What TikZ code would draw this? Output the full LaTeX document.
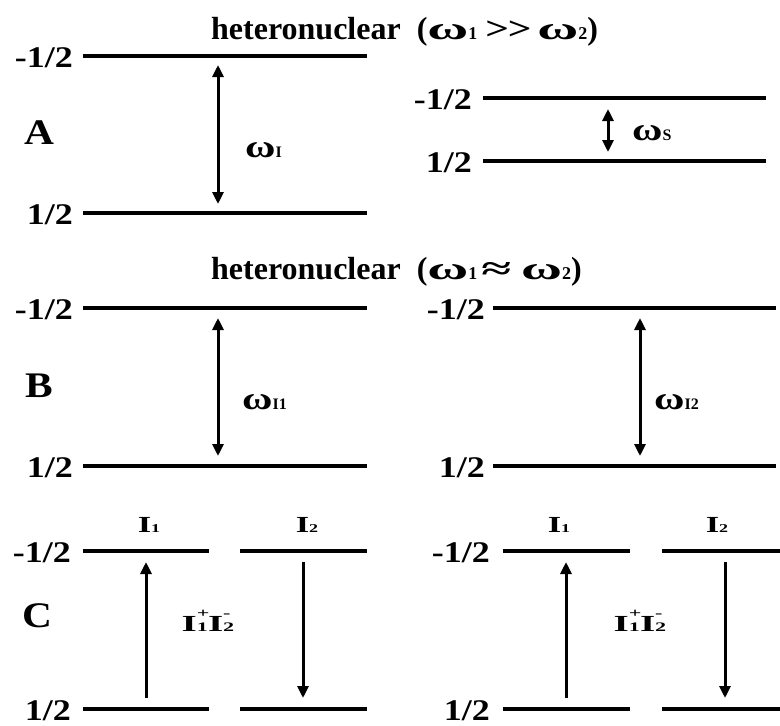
\documentclass[tikz,border=0pt]{standalone}
\usepackage{fontspec}
\setmainfont{Liberation Serif}
\usetikzlibrary{arrows.meta}
\newcommand{\lvlt}[1]{\scalebox{1.2}[1]{\fontsize{30}{30}\selectfont\bfseries #1}}
\newcommand{\letr}[1]{\scalebox{1.15}[1]{\fontsize{36}{36}\selectfont\bfseries #1}}
\newcommand{\sbs}[1]{{\fontsize{16}{16}\selectfont #1}}
\newcommand{\tsb}[1]{{\fontsize{18}{18}\selectfont #1}}
\newcommand{\om}{\scalebox{1.3}[1]{ω}}
\newcommand{\tom}{\scalebox{1.75}[1]{ω}}
\newcommand{\Ilab}[1]{\scalebox{1.5}[1]{\fontsize{23}{23}\selectfont\bfseries I{\fontsize{12}{12}\selectfont #1}}}
\newcommand{\Ipm}{\scalebox{1.7}[1]{\fontsize{23}{23}\selectfont\bfseries I{\fontsize{13}{13}\selectfont\rlap{\raisebox{14pt}{+}}1}I{\fontsize{13}{13}\selectfont\rlap{\raisebox{14pt}{-}}2}}}
\begin{document}
\begin{tikzpicture}[x=1pt,y=-1pt,
  every node/.style={inner sep=0pt},
  level/.style={line width=3.3pt},
  dbl/.style={line width=3pt,arrows={Triangle[length=12pt,width=11pt]-Triangle[length=12pt,width=11pt]}},
  sgl/.style={line width=3pt,arrows={-Triangle[length=12pt,width=11pt]}},
  lab/.style={anchor=east},
  ttl/.style={anchor=base west,font=\fontsize{32}{32}\selectfont\bfseries},
  om/.style={anchor=west,font=\fontsize{32}{32}\selectfont\bfseries}
]
\useasboundingbox (0,0) rectangle (780,726);

% titles
\node[ttl] (t1) at (211,39) {heteronuclear\hspace{16pt}(\tom\tsb{1}\hspace{8pt}\scalebox{1.3}[1]{>\kern-1pt>}\hspace{6pt}\tom\tsb{2})};
\node[ttl] (t2) at (211,279) {heteronuclear\hspace{16pt}(\tom\tsb{1}\hspace{4pt}\scalebox{1.7}[1]{≈}\hspace{10pt}\tom\tsb{2})};

% ---------- Row A ----------
\coordinate (a1l) at (83,56);  \coordinate (a1r) at (367,56);
\coordinate (a2l) at (83,213); \coordinate (a2r) at (367,213);
\draw[level] (a1l) -- (a1r);
\draw[level] (a2l) -- (a2r);
\node[lab] (la1) at (73,58) {\lvlt{-1/2}};
\node[lab] (la2) at (73,215) {\lvlt{1/2}};
\node (lA) at (39,133) {\letr{A}};
\coordinate (aa1) at (218,65); \coordinate (aa2) at (218,204);
\draw[dbl] (aa1) -- (aa2);
\node[om] (wI) at (245,150) {\om\sbs{I}};

\coordinate (s1l) at (483,98);  \coordinate (s1r) at (766,98);
\coordinate (s2l) at (483,161); \coordinate (s2r) at (766,161);
\draw[level] (s1l) -- (s1r);
\draw[level] (s2l) -- (s2r);
\node[lab] (ls1) at (472,100) {\lvlt{-1/2}};
\node[lab] (ls2) at (472,163) {\lvlt{1/2}};
\coordinate (sa1) at (608,109); \coordinate (sa2) at (608,152);
\draw[dbl] (sa1) -- (sa2);
\node[om] (wS) at (632,133) {\om\sbs{S}};

% ---------- Row B ----------
\coordinate (b1l) at (83,308);  \coordinate (b1r) at (367,308);
\coordinate (b2l) at (83,466);  \coordinate (b2r) at (367,466);
\draw[level] (b1l) -- (b1r);
\draw[level] (b2l) -- (b2r);
\node[lab] (lb1) at (73,310) {\lvlt{-1/2}};
\node[lab] (lb2) at (73,468) {\lvlt{1/2}};
\node (lB) at (39,386) {\letr{B}};
\coordinate (ba1) at (218,318); \coordinate (ba2) at (218,456);
\draw[dbl] (ba1) -- (ba2);
\node[om] (wI1) at (242,402) {\om\sbs{I1}};

\coordinate (c1l) at (493,308);  \coordinate (c1r) at (776,308);
\coordinate (c2l) at (493,466);  \coordinate (c2r) at (776,466);
\draw[level] (c1l) -- (c1r);
\draw[level] (c2l) -- (c2r);
\node[lab] (lc1) at (485,310) {\lvlt{-1/2}};
\node[lab] (lc2) at (485,468) {\lvlt{1/2}};
\coordinate (ca1) at (640,318); \coordinate (ca2) at (640,456);
\draw[dbl] (ca1) -- (ca2);
\node[om] (wI2) at (654,402) {\om\sbs{I2}};

% ---------- Row C left ----------
\coordinate (d1l) at (83,551);  \coordinate (d1r) at (209,551);
\coordinate (d2l) at (240,551); \coordinate (d2r) at (367,551);
\coordinate (d3l) at (83,709);  \coordinate (d3r) at (209,709);
\coordinate (d4l) at (240,709); \coordinate (d4r) at (367,709);
\draw[level] (d1l) -- (d1r);
\draw[level] (d2l) -- (d2r);
\draw[level] (d3l) -- (d3r);
\draw[level] (d4l) -- (d4r);
\node[lab] (ld1) at (71,553) {\lvlt{-1/2}};
\node[lab] (ld2) at (71,711) {\lvlt{1/2}};
\node (lC) at (37,616) {\letr{C}};
\node (i1a) at (149,525) {\Ilab{1}};
\node (i2a) at (307,525) {\Ilab{2}};
\coordinate (da1) at (146,698); \coordinate (da2) at (146,562);
\draw[sgl] (da1) -- (da2);
\coordinate (db1) at (303,562); \coordinate (db2) at (303,698);
\draw[sgl] (db1) -- (db2);
\node (ipa) at (208,621) {\Ipm};

% ---------- Row C right ----------
\coordinate (e1l) at (503,551);  \coordinate (e1r) at (630,551);
\coordinate (e2l) at (662,551);  \coordinate (e2r) at (780,551);
\coordinate (e3l) at (503,709);  \coordinate (e3r) at (630,709);
\coordinate (e4l) at (662,709);  \coordinate (e4r) at (780,709);
\draw[level] (e1l) -- (e1r);
\draw[level] (e2l) -- (e2r);
\draw[level] (e3l) -- (e3r);
\draw[level] (e4l) -- (e4r);
\node[lab] (le1) at (490,553) {\lvlt{-1/2}};
\node[lab] (le2) at (490,711) {\lvlt{1/2}};
\node (i1b) at (559,525) {\Ilab{1}};
\node (i2b) at (717,525) {\Ilab{2}};
\coordinate (ea1) at (566,698); \coordinate (ea2) at (566,562);
\draw[sgl] (ea1) -- (ea2);
\coordinate (eb1) at (725,562); \coordinate (eb2) at (725,698);
\draw[sgl] (eb1) -- (eb2);
\node (ipb) at (640,621) {\Ipm};
\end{tikzpicture}
\end{document}
